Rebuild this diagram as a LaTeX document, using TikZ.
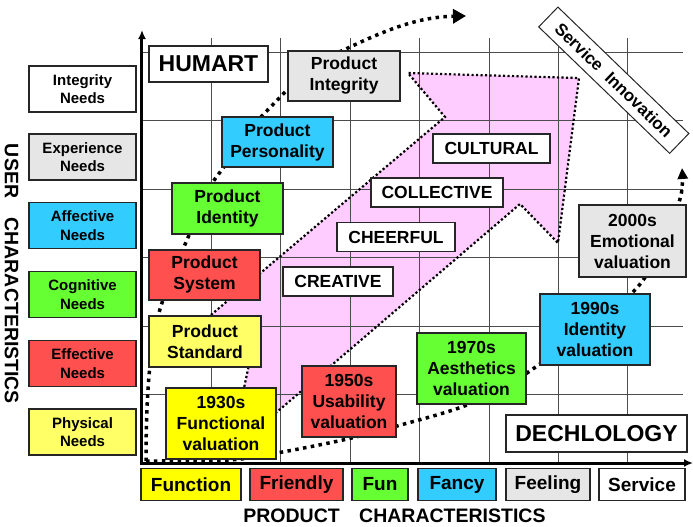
\documentclass[tikz,border=0pt]{standalone}
\usepackage{fontspec}
\setmainfont{Liberation Sans}
\usetikzlibrary{arrows.meta}
\definecolor{sky}{HTML}{33CCFF}
\definecolor{lime}{HTML}{66FF33}
\definecolor{coral}{HTML}{FF5050}
\definecolor{lemon}{HTML}{FFFF66}
\definecolor{yolk}{HTML}{FFFF00}
\definecolor{mist}{HTML}{E6E6E6}
\definecolor{blush}{HTML}{FFCCFF}
\tikzset{
  box/.style={draw=black!85,line width=1.3pt,inner sep=0pt,align=center,font=\bfseries\fontsize{17.5}{21}\selectfont},
  needbox/.style={box,minimum width=107pt,minimum height=46pt,font=\bfseries\fontsize{15}{18.5}\selectfont},
  charbox/.style={box,minimum height=32pt,font=\bfseries\fontsize{19}{22}\selectfont},
  moodbox/.style={box,fill=white,minimum height=29pt},
  bigbox/.style={box,fill=white,font=\bfseries\fontsize{23}{27}\selectfont},
  gridline/.style={black!70,line width=.9pt},
  timeline/.style={line width=3.5pt,dash pattern=on 3.5pt off 4.4pt},
  axistitle/.style={font=\bfseries\fontsize{19.5}{23}\selectfont}
}

\begin{document}
\begin{tikzpicture}[x=69.4pt,y=68.5pt]
\useasboundingbox (-2.0461,-0.9343) rectangle (7.9395,6.7591);
\fill[blush] (0.908,2.088)--(1.556,1.504)--(1.470,1.095)--(1.455,0.321)--(5.447,3.781)--(5.994,3.212)--(6.297,5.620)--(3.833,5.693)--(4.366,5.051)--cycle;
\foreach \x in {1,...,7}{\draw[gridline] (\x,0)--(\x,6.2);}
\foreach \y in {1,...,6}{\draw[gridline] (0,\y)--(7.795,\y);}
\draw[line width=2.2pt,dash pattern=on 2.2pt off 2.3pt] (0.908,2.088)--(1.556,1.504)--(1.470,1.095)--(1.455,0.321)--(5.447,3.781)--(5.994,3.212)--(6.297,5.620)--(3.833,5.693)--(4.366,5.051)--cycle;
\draw[line width=3pt,{Latex[length=9pt,width=8pt]}-{Latex[length=9pt,width=8pt]}] (0,6.321)--(0,0)--(7.94,0);
\coordinate (start) at (0.058,0.029);
\draw[timeline,-{Triangle[length=13pt,width=14pt]}] (start) .. controls (0.058,1.212) and (0.144,1.942) .. (0.303,2.380)
  .. controls (0.476,2.891) and (0.807,3.620) .. (1.009,4.088) -- (1.700,5.036) -- (2.061,5.416)
  .. controls (2.421,5.766) and (2.637,5.912) .. (2.968,6.058) .. controls (3.573,6.350) and (4.006,6.511) .. (4.669,6.526);
\draw[timeline,-{Triangle[length=11pt,width=10pt]}] plot[smooth] coordinates{(start)(1.268,0.044)(1.945,0.146)(2.896,0.336)(3.674,0.540)(4.683,0.847)(5.548,1.314)(7.075,2.496)(7.550,3.328)(7.767,3.912)(7.781,4.307)};

\foreach \n/\c/\y in {Integrity/white/5.46,Experience/mist/4.467,Affective/sky/3.467,Cognitive/lime/2.46,Effective/coral/1.453,Physical/lemon/0.453}{\node[needbox,fill=\c] (\n) at (-0.857,\y) {\n\\Needs};}
\foreach \n/\c/\x/\w in {Function/yolk/0.706/100,Friendly/coral/2.226/93,Fun/lime/3.429/56,Fancy/sky/4.539/78,Feeling/mist/5.850/84,Service/white/7.205/86}{\node[charbox,fill=\c,minimum width=\w pt] (\n) at (\x,-0.314) {\n};}
\foreach \n/\x/\y/\w in {CULTURAL/5.036/4.591/117,COLLECTIVE/4.251/3.949/132,CHEERFUL/3.660/3.299/118,CREATIVE/2.824/2.650/110}{\node[moodbox,minimum width=\w pt] (\n) at (\x,\y) {\n};}

\node[bigbox,minimum width=119pt,minimum height=36pt] (humart) at (0.958,5.825) {HUMART};
\node[box,fill=mist,minimum width=112pt,minimum height=50pt] (integrity) at (2.911,5.650) {Product\\Integrity};
\node[box,fill=sky,minimum width=111pt,minimum height=50pt] (personality) at (1.952,4.686) {Product\\Personality};
\node[box,fill=lime,minimum width=111pt,minimum height=51pt] (identity) at (1.232,3.715) {Product\\Identity};
\node[box,fill=coral,minimum width=111pt,minimum height=50pt] (system) at (0.901,2.745) {Product\\System};
\node[box,fill=lemon,minimum width=112pt,minimum height=51pt] (standard) at (0.908,1.774) {Product\\Standard};
\node[box,fill=yolk,minimum width=110pt,minimum height=71pt] (functional) at (1.138,0.577) {1930s\\Functional\\valuation};
\node[box,fill=coral,minimum width=94pt,minimum height=71pt] (usability) at (2.983,0.898) {1950s\\Usability\\valuation};
\node[box,fill=lime,minimum width=109pt,minimum height=71pt] (aesthetics) at (4.748,1.380) {1970s\\Aesthetics\\valuation};
\node[box,fill=sky,minimum width=110pt,minimum height=71pt] (identityval) at (6.527,1.949) {1990s\\Identity\\valuation};
\node[box,fill=mist,minimum width=107pt,minimum height=72pt] (emotional) at (7.068,3.241) {2000s\\Emotional\\valuation};
\node[bigbox,minimum width=181pt,minimum height=37pt] (dechlology) at (6.549,0.431) {DECHLOLOGY};
\node[box,fill=white,line width=1pt,rotate=-44,minimum width=182pt,minimum height=27.6pt,font=\bfseries\fontsize{17}{20}\selectfont] (innovation) at (6.798,5.588) {Service\ \ Innovation};

\node[axistitle,rotate=-90] (usertitle) at (-1.880,2.759) {USER\quad CHARACTERISTICS};
\node[axistitle] (producttitle) at (3.638,-0.774) {PRODUCT\quad CHARACTERISTICS};
\end{tikzpicture}
\end{document}
